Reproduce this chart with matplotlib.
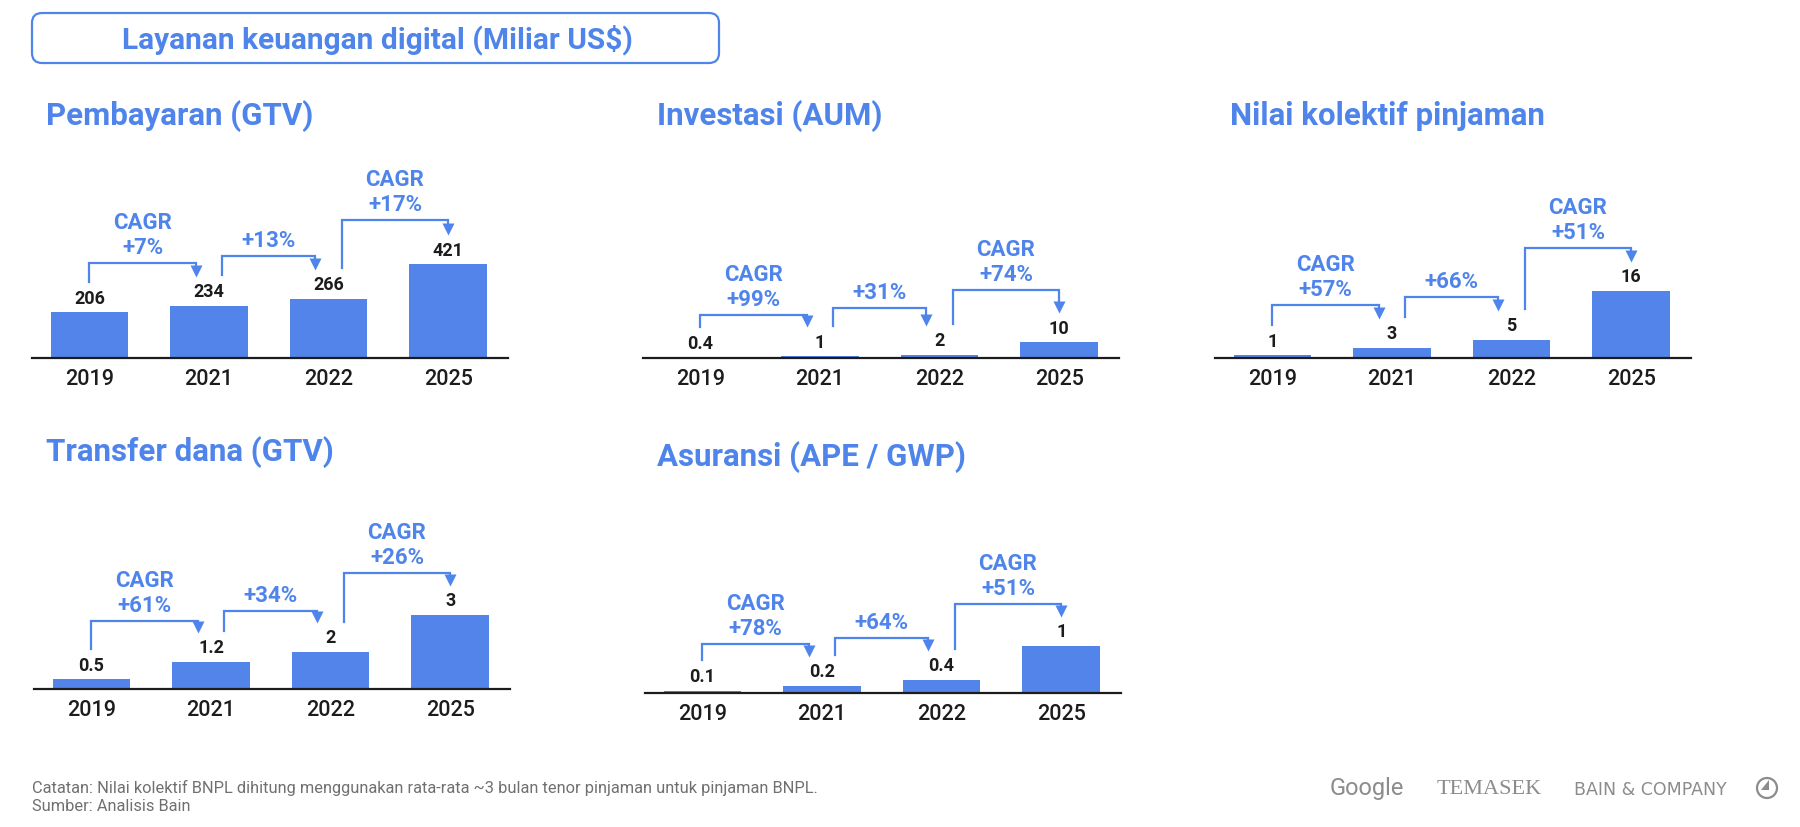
import matplotlib
matplotlib.use('Agg')
import matplotlib.pyplot as plt
from matplotlib.patches import FancyBboxPatch, Circle, Polygon

plt.rcParams['font.family'] = ['Roboto', 'DejaVu Sans']

BLUE = '#4F85EB'
BAR = '#5384EA'
INK = '#1c1c1c'
GREY = '#8c8c8c'
W, H = 1800, 828
AX_H = 220  # tinggi tiap axes dalam px

# data
years = ['2019', '2021', '2022', '2025']

pembayaran = [206, 234, 266, 421]
pembayaran_lbl = ['206', '234', '266', '421']
pembayaran_cagr = ['+7%', '+13%', '+17%']

investasi = [0.4, 1, 2, 10]
investasi_lbl = ['0.4', '1', '2', '10']
investasi_cagr = ['+99%', '+31%', '+74%']

pinjaman = [0.7, 2.4, 4.3, 16]
pinjaman_lbl = ['1', '3', '5', '16']
pinjaman_cagr = ['+57%', '+66%', '+51%']

transfer = [0.4, 1.1, 1.5, 3.0]
transfer_lbl = ['0.5', '1.2', '2', '3']
transfer_cagr = ['+61%', '+34%', '+26%']

asuransi = [0.05, 0.15, 0.28, 1.0]
asuransi_lbl = ['0.1', '0.2', '0.4', '1']
asuransi_cagr = ['+78%', '+64%', '+51%']

fig = plt.figure(figsize=(18, 8.28), dpi=100)
bg = fig.add_axes([0, 0, 1, 1])
bg.set_xlim(0, W)
bg.set_ylim(H, 0)
bg.axis('off')


def panel(x0, base, values, labels, cagr, levels, tallest_px):
    ax = fig.add_axes([x0 / W, (H - base) / H, 476 / W, AX_H / H])
    ax.patch.set_visible(False)
    ppu = tallest_px / max(values)
    ax.set_ylim(0, AX_H / ppu)
    ax.set_xlim(-0.48, 3.5)
    xs = list(range(len(values)))
    ax.bar(xs, values, width=0.65, color=BAR)
    for s in ['top', 'left', 'right']:
        ax.spines[s].set_visible(False)
    ax.spines['bottom'].set_linewidth(1.6)
    ax.spines['bottom'].set_color(INK)
    ax.set_yticks([])
    ax.set_xticks(xs, years)
    ax.tick_params(axis='x', length=0, pad=7, labelsize=15.5, labelcolor=INK)
    for t in ax.get_xticklabels():
        t.set_fontweight('medium')

    # label nilai
    lab_px = []
    for i, v in enumerate(values):
        p = v * ppu + 14.5
        lab_px.append(p)
        ax.text(i, p / ppu, labels[i], ha='center', va='center',
                fontsize=13, fontweight='bold', color=INK)

    # panah CAGR
    for i in range(3):
        sx = i + (0 if i == 0 else 0.11)
        ex = i + 1 - (0.11 if i < 2 else 0)
        bottom = (lab_px[i] + 16) / ppu
        lev = levels[i] / ppu
        tip = lab_px[i + 1] + 15
        ax.plot([sx, sx, ex, ex], [bottom, lev, lev, (tip + 6) / ppu],
                color=BLUE, lw=1.6, clip_on=False, solid_joinstyle='miter')
        ax.plot(ex, (tip + 5.5) / ppu, marker='v', ms=8, color=BLUE,
                mec='none', clip_on=False)
        mx = (sx + ex) / 2
        ax.text(mx, (levels[i] + 16) / ppu, cagr[i], ha='center', va='center',
                fontsize=16, fontweight='bold', color=BLUE, clip_on=False)
        if i != 1:
            ax.text(mx, (levels[i] + 41) / ppu, 'CAGR', ha='center', va='center',
                    fontsize=16, fontweight='bold', color=BLUE, clip_on=False)
    return ax


panel(32, 359, pembayaran, pembayaran_lbl, pembayaran_cagr, [95, 102, 138], 94)
panel(643, 359, investasi, investasi_lbl, investasi_cagr, [43, 50, 68], 16)
panel(1215, 359, pinjaman, pinjaman_lbl, pinjaman_cagr, [53, 61, 110], 67)
panel(34, 690, transfer, transfer_lbl, transfer_cagr, [68, 78, 116], 74)
panel(645, 694, asuransi, asuransi_lbl, asuransi_cagr, [49, 55, 89], 47)

# judul utama dalam kotak
bg.add_patch(FancyBboxPatch((32, 14), 687, 50, boxstyle='round,pad=0,rounding_size=10',
                            fc='none', ec=BLUE, lw=1.6))
bg.text(377, 40, 'Layanan keuangan digital (Miliar US$)', ha='center', va='center',
        fontsize=21.5, fontweight='bold', color=BLUE)

# judul tiap grafik
sub = dict(fontsize=22.5, fontweight='bold', color=BLUE, va='center', ha='left')
bg.text(46, 116, 'Pembayaran (GTV)', **sub)
bg.text(657, 116, 'Investasi (AUM)', **sub)
bg.text(1230, 116, 'Nilai kolektif pinjaman', **sub)
bg.text(46, 452, 'Transfer dana (GTV)', **sub)
bg.text(657, 457, 'Asuransi (APE / GWP)', **sub)

# catatan
note = dict(fontsize=11.8, color='#707070', va='center')
bg.text(32, 788, 'Catatan: Nilai kolektif BNPL dihitung menggunakan rata-rata ~3 bulan '
        'tenor pinjaman untuk pinjaman BNPL.', **note)
bg.text(32, 807, 'Sumber: Analisis Bain', **note)

# logo
bg.text(1330, 789, 'Google', fontsize=17, color=GREY, va='center')
bg.text(1437, 790, 'TEMASEK', fontsize=16, color=GREY, va='center',
        family=['Liberation Serif', 'DejaVu Serif'])
bg.text(1574, 790, 'BAIN & COMPANY', fontsize=12.5, color=GREY, va='center',
        family=['DejaVu Sans'])
bg.add_patch(Circle((1767, 789), 10, fc='none', ec=GREY, lw=1.6))
bg.add_patch(Polygon([(1769, 781), (1769, 791), (1761, 791)], closed=True, fc=GREY, ec='none'))

fig.savefig('out.png', dpi=100)
